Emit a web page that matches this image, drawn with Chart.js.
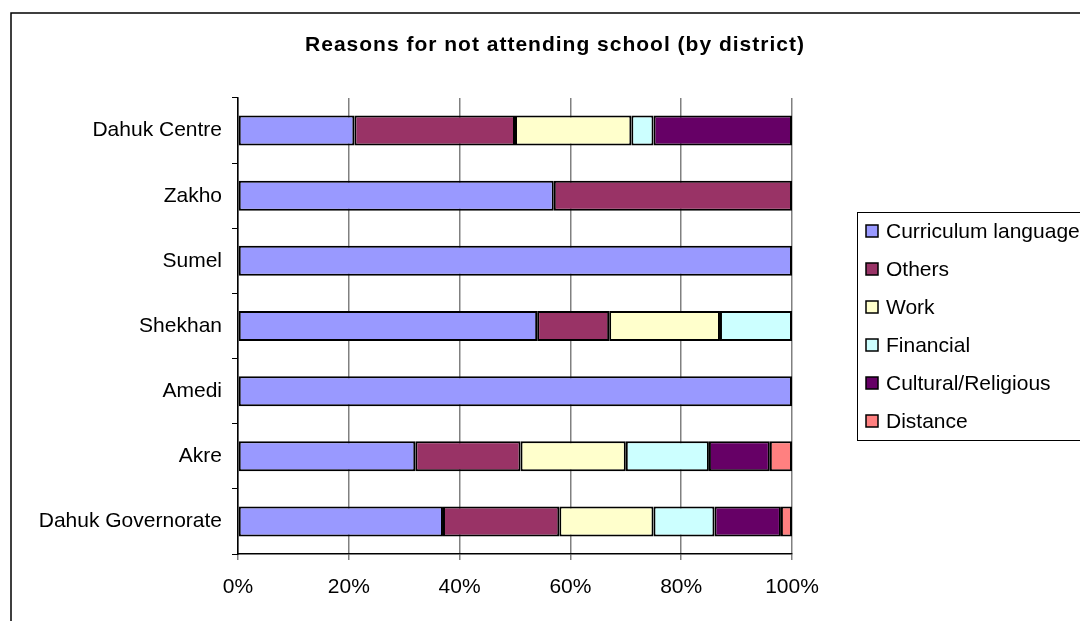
<!DOCTYPE html>
<html>
<head>
<meta charset="utf-8">
<script src="https://cdn.jsdelivr.net/npm/chart.js@4.4.1/dist/chart.umd.min.js"></script>
<style>
  html, body { margin: 0; padding: 0; background: #fff; }
  #wrap { width: 1080px; height: 621px; position: relative; }
</style>
</head>
<body>
<div id="wrap"><canvas id="c" width="1080" height="621"></canvas></div>
<script>
const TITLE = 'Reasons for not attending school (by district)';
const districts = ['Dahuk Centre', 'Zakho', 'Sumel', 'Shekhan', 'Amedi', 'Akre', 'Dahuk Governorate'];
const seriesNames = ['Curriculum language', 'Others', 'Work', 'Financial', 'Cultural/Religious', 'Distance'];
const seriesColors = ['#9999FF', '#993366', '#FFFFCC', '#CCFFFF', '#660066', '#FF8080'];
const curriculum = [21, 57, 100, 54, 100, 32, 37];
const others     = [29, 43, 0, 13, 0, 19, 21];
const work       = [21, 0, 0, 20, 0, 19, 17];
const financial  = [4, 0, 0, 13, 0, 15, 11];
const cultural   = [25, 0, 0, 0, 0, 11, 12];
const distance   = [0, 0, 0, 0, 0, 4, 2];
const xTicks = [0, 20, 40, 60, 80, 100];

const seriesValues = [curriculum, others, work, financial, cultural, distance];
const FONT = '"Liberation Sans", Arial, Helvetica, sans-serif';

const framePlugin = {
  id: 'frame',
  beforeDraw(chart) {
    const ctx = chart.ctx;
    ctx.save();
    ctx.fillStyle = '#fff';
    ctx.fillRect(0, 0, chart.width, chart.height);
    ctx.strokeStyle = '#000';
    ctx.lineWidth = 1.5;
    ctx.strokeRect(11, 13, 1100, 700);
    ctx.restore();
  },
  afterDraw(chart) {
    const ctx = chart.ctx;
    ctx.save();
    // title
    ctx.fillStyle = '#000';
    ctx.font = 'bold 21px ' + FONT;
    if ('letterSpacing' in ctx) ctx.letterSpacing = '1px';
    ctx.textAlign = 'center';
    ctx.textBaseline = 'middle';
    ctx.fillText(TITLE, 555, 45);
    if ('letterSpacing' in ctx) ctx.letterSpacing = '0px';
    // legend
    ctx.strokeStyle = '#000';
    ctx.lineWidth = 1;
    ctx.strokeRect(857.5, 212.5, 300, 228);
    ctx.font = '21px ' + FONT;
    ctx.textAlign = 'left';
    ctx.textBaseline = 'middle';
    seriesNames.forEach((name, i) => {
      const y = 231 + i * 38;
      ctx.fillStyle = seriesColors[i];
      ctx.fillRect(866, y - 6, 12, 12);
      ctx.lineWidth = 1.5;
      ctx.strokeStyle = '#000';
      ctx.strokeRect(866, y - 6, 12, 12);
      ctx.fillStyle = '#000';
      ctx.fillText(name, 886, y + 1);
    });
    ctx.restore();
  }
};

new Chart(document.getElementById('c'), {
  type: 'bar',
  data: {
    labels: districts,
    datasets: seriesNames.map((name, i) => ({
      label: name,
      data: seriesValues[i],
      backgroundColor: seriesColors[i],
      borderColor: '#000',
      borderWidth: 2,
      borderSkipped: false,
      barPercentage: 0.46,
      categoryPercentage: 1
    }))
  },
  options: {
    indexAxis: 'y',
    responsive: false,
    animation: false,
    devicePixelRatio: 1,
    layout: { padding: { left: 0, right: 288, top: 98, bottom: 0 } },
    plugins: {
      legend: { display: false },
      title: { display: false },
      tooltip: { enabled: false }
    },
    scales: {
      x: {
        stacked: true,
        min: 0,
        max: 100,
        afterBuildTicks(scale) { scale.ticks = xTicks.map(v => ({ value: v })); },
        afterFit(scale) { scale.height = 67; },
        ticks: {
          color: '#000',
          font: { family: FONT, size: 21 },
          padding: 15,
          callback: v => v + '%'
        },
        grid: { color: '#808080', lineWidth: 1.5, tickLength: 6, drawTicks: true },
        border: { color: '#000', width: 1.5 }
      },
      y: {
        stacked: true,
        afterFit(scale) { scale.width = 238; },
        ticks: {
          color: '#000',
          font: { family: FONT, size: 21 },
          padding: 10
        },
        grid: { drawOnChartArea: false, offset: true, tickLength: 6, color: '#000', lineWidth: 1 },
        border: { color: '#000', width: 1.5 }
      }
    }
  },
  plugins: [framePlugin]
});
</script>
</body>
</html>
